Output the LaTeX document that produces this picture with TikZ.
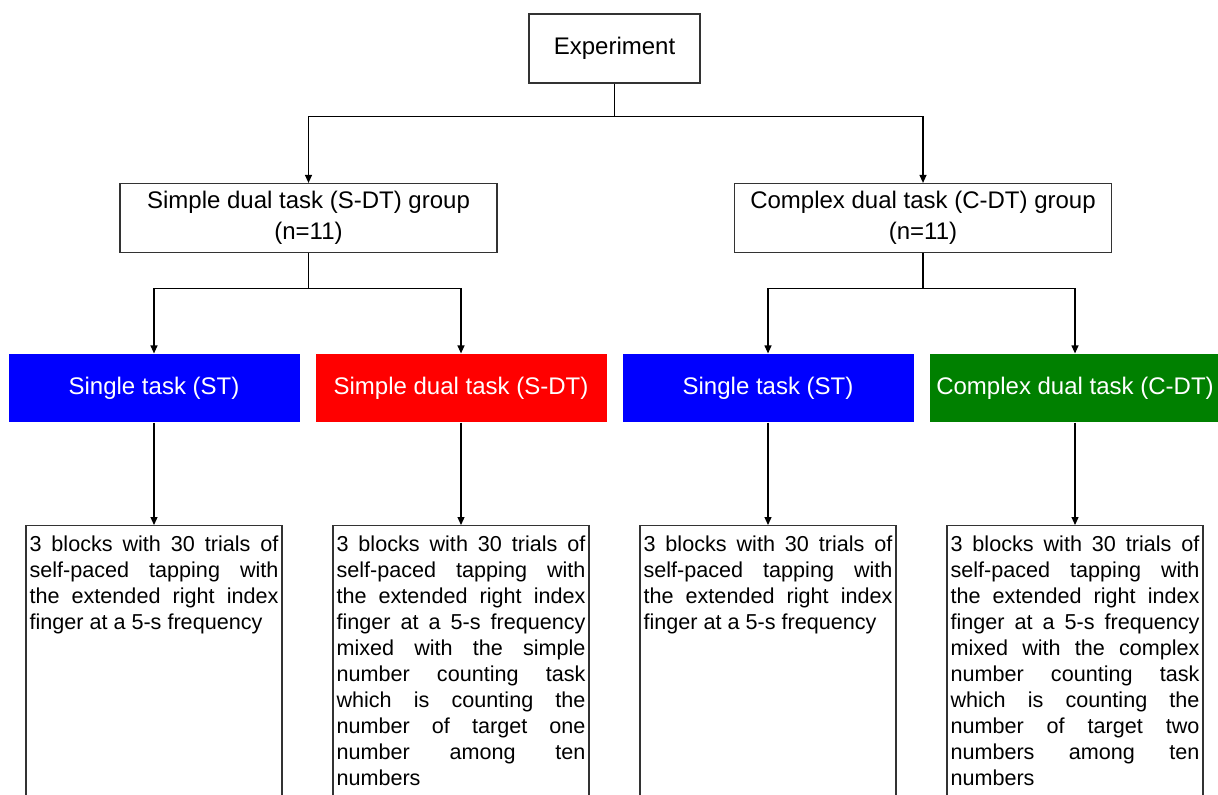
\documentclass[tikz,border=0pt]{standalone}
\usepackage{fontspec}
\setmainfont{Liberation Sans}
\usetikzlibrary{arrows.meta}
\definecolor{taskblue}{RGB}{0,0,255}
\definecolor{taskred}{RGB}{255,0,0}
\definecolor{taskgreen}{RGB}{0,128,0}

\begin{document}
\begin{tikzpicture}[x=0.5pt, y=-0.5pt, line width=0.6pt,
  box/.style={draw=black!80, minimum height=34.5pt, align=center, font=\fontsize{12}{15.5}\selectfont},
  task/.style={minimum width=145.5pt, minimum height=34pt, inner xsep=1pt, text=white, font=\fontsize{12}{14.5}\selectfont},
  detail/.style={draw=black!80, anchor=north, text width=124.5pt, inner xsep=1.75pt, inner ysep=5pt, align=justify, text depth=140pt, font=\fontsize{10.8}{13}\selectfont},
  arr/.style={-{Triangle[width=3.5pt,length=4pt]}}]

\useasboundingbox (0,0) rectangle (1218,794);

\node[box, minimum width=85.5pt] (exp) at (614.5,48.5) {Experiment};

\node[box, minimum width=188.5pt] (sdt) at (308.5,218) {Simple dual task (S-DT) group\\(n=11)};
\node[box, minimum width=188.5pt] (cdt) at (923,218) {Complex dual task (C-DT) group\\(n=11)};

\node[task, fill=taskblue] (st1) at (154,388) {Single task (ST)};
\node[task, fill=taskred] (sdtask) at (461,388) {Simple dual task (S-DT)};
\node[task, fill=taskblue] (st2) at (768,388) {Single task (ST)};
\node[task, fill=taskgreen] (cdtask) at (1075,388) {Complex dual task (C-DT)};

\node[detail] (blk1) at (154,525) {3 blocks with 30 trials of\linebreak self-paced tapping with\linebreak the extended right index\linebreak finger at a 5-s frequency};
\node[detail] (blk2) at (461,525) {3 blocks with 30 trials of\linebreak self-paced tapping with\linebreak the extended right index\linebreak finger at a 5-s frequency\linebreak mixed with the simple\linebreak number counting task\linebreak which is counting the\linebreak number of target one\linebreak number among ten\linebreak numbers};
\node[detail] (blk3) at (768,525) {3 blocks with 30 trials of\linebreak self-paced tapping with\linebreak the extended right index\linebreak finger at a 5-s frequency};
\node[detail] (blk4) at (1075,525) {3 blocks with 30 trials of\linebreak self-paced tapping with\linebreak the extended right index\linebreak finger at a 5-s frequency\linebreak mixed with the complex\linebreak number counting task\linebreak which is counting the\linebreak number of target two\linebreak numbers among ten\linebreak numbers};

\draw (exp.south) -- ++(0,33) coordinate (fork1);
\draw[arr] (fork1) -| (sdt);
\draw[arr] (fork1) -| (cdt);

\draw (sdt.south) -- ++(0,35) coordinate (fork2);
\draw[arr] (fork2) -| (st1);
\draw[arr] (fork2) -| (sdtask);

\draw (cdt.south) -- ++(0,35) coordinate (fork3);
\draw[arr] (fork3) -| (st2);
\draw[arr] (fork3) -| (cdtask);

\draw[arr] (st1) -- (blk1);
\draw[arr] (sdtask) -- (blk2);
\draw[arr] (st2) -- (blk3);
\draw[arr] (cdtask) -- (blk4);

\end{tikzpicture}
\end{document}
